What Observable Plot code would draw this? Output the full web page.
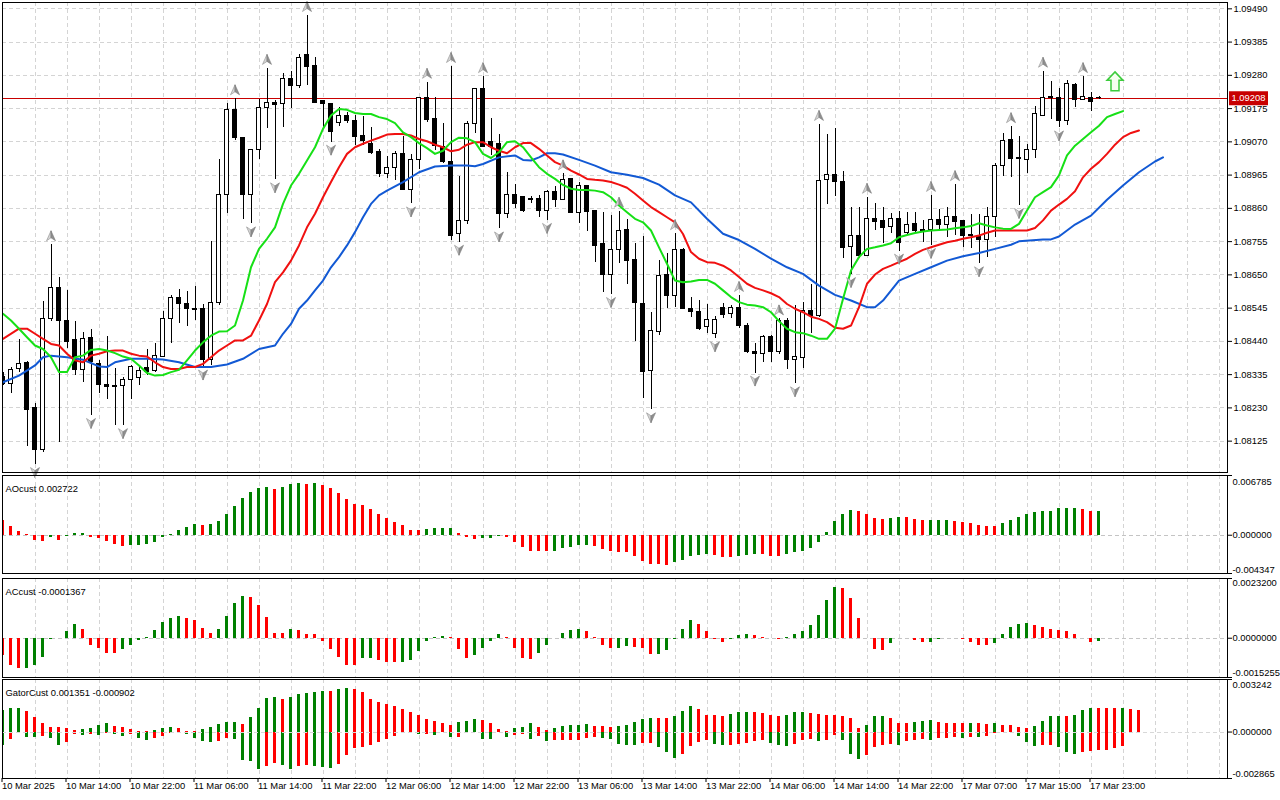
<!DOCTYPE html>
<html><head><meta charset="utf-8">
<script src="https://cdn.jsdelivr.net/npm/d3@7"></script>
<script src="https://cdn.jsdelivr.net/npm/@observablehq/plot@0.6"></script>
<style>
html,body{margin:0;padding:0;background:#fff;}
#chart{position:relative;width:1280px;height:800px;overflow:hidden;background:#fff;}
#chart svg{position:absolute;left:0;}
</style></head><body><div id="chart"></div>
<script>
// ---------- DATA (EURUSD H1, 10–18 Mar 2025) ----------
const open = [1.08326,1.08306,1.08353,1.08372,1.08230,1.08096,1.08511,1.08609,1.08504,1.08443,1.08350,1.08451,1.08369,1.08303,1.08298,1.08298,1.08317,1.08325,1.08357,1.08348,
1.08390,1.08511,1.08578,1.08559,1.08543,1.08543,1.08380,1.08562,1.08903,1.09169,1.09083,1.08903,1.09043,1.09177,1.09193,1.09190,1.09269,1.09246,1.09343,1.09308,
1.09198,1.09190,1.09129,1.09153,1.09137,1.09087,1.09062,1.09037,1.08969,1.08988,1.09032,1.08919,1.09013,1.09209,1.09143,1.09053,1.09006,1.08780,1.08819,1.09125,
1.09237,1.09069,1.09064,1.08843,1.08901,1.08897,1.08889,1.08890,1.08851,1.08913,1.08887,1.08953,1.08845,1.08932,1.08851,1.08746,1.08651,1.08729,1.08792,1.08698,
1.08559,1.08346,1.08469,1.08650,1.08582,1.08727,1.08543,1.08532,1.08485,1.08464,1.08546,1.08525,1.08546,1.08490,1.08408,1.08401,1.08453,1.08406,1.08504,1.08380,
1.08388,1.08535,1.08519,1.08948,1.08964,1.08943,1.08737,1.08774,1.08711,1.08825,1.08819,1.08801,1.08825,1.08782,1.08811,1.08791,1.08792,1.08822,1.08809,1.08832,
1.08819,1.08775,1.08774,1.08761,1.08832,1.08995,1.09076,1.09020,1.09013,1.09045,1.09153,1.09213,1.09209,1.09137,1.09251,1.09203,1.09209,1.09210];
const high = [1.08342,1.08359,1.08445,1.08377,1.08243,1.08566,1.08745,1.08641,1.08601,1.08504,1.08469,1.08477,1.08380,1.08455,1.08355,1.08325,1.08364,1.08359,1.08413,1.08432,
1.08534,1.08585,1.08603,1.08598,1.08613,1.08556,1.08755,1.09013,1.09190,1.09206,1.09085,1.09045,1.09203,1.09302,1.09201,1.09287,1.09293,1.09346,1.09469,1.09335,
1.09201,1.09192,1.09179,1.09164,1.09153,1.09150,1.09116,1.09046,1.09024,1.09040,1.09087,1.09030,1.09211,1.09258,1.09209,1.09127,1.09308,1.08961,1.09134,1.09239,
1.09276,1.09143,1.09093,1.08974,1.08935,1.08897,1.08897,1.08901,1.08916,1.08929,1.08969,1.08953,1.08943,1.08932,1.08851,1.08848,1.08837,1.08851,1.08824,1.08748,
1.08771,1.08530,1.08695,1.08717,1.08780,1.08732,1.08580,1.08569,1.08556,1.08519,1.08559,1.08553,1.08585,1.08496,1.08434,1.08459,1.08459,1.08511,1.08511,1.08553,
1.08564,1.08620,1.09125,1.09093,1.09111,1.08977,1.08862,1.08862,1.08895,1.08876,1.08862,1.08843,1.08851,1.08848,1.08848,1.08822,1.08901,1.08855,1.08864,1.08935,
1.08822,1.08841,1.08841,1.08864,1.09001,1.09095,1.09118,1.09087,1.09062,1.09182,1.09293,1.09261,1.09237,1.09264,1.09253,1.09276,1.09227,1.09214];
const low = [1.08301,1.08276,1.08343,1.08109,1.08051,1.08088,1.08504,1.08122,1.08417,1.08332,1.08311,1.08206,1.08276,1.08256,1.08174,1.08174,1.08256,1.08301,1.08332,1.08343,
1.08388,1.08434,1.08497,1.08487,1.08506,1.08359,1.08364,1.08553,1.08845,1.09074,1.08824,1.08811,1.09014,1.09111,1.08950,1.09116,1.09174,1.09237,1.09248,1.09191,
1.09111,1.09069,1.09118,1.09129,1.09058,1.09058,1.09030,1.08958,1.08953,1.08948,1.08919,1.08874,1.08982,1.09132,1.09043,1.09001,1.08759,1.08753,1.08809,1.09095,
1.09053,1.09027,1.08795,1.08827,1.08859,1.08848,1.08874,1.08832,1.08822,1.08862,1.08885,1.08843,1.08813,1.08788,1.08690,1.08595,1.08588,1.08685,1.08620,1.08441,
1.08259,1.08224,1.08459,1.08543,1.08548,1.08543,1.08516,1.08474,1.08464,1.08448,1.08511,1.08511,1.08480,1.08403,1.08340,1.08374,1.08374,1.08399,1.08350,1.08306,
1.08353,1.08466,1.08516,1.08872,1.08897,1.08701,1.08651,1.08701,1.08708,1.08790,1.08748,1.08782,1.08725,1.08774,1.08785,1.08753,1.08743,1.08790,1.08767,1.08774,
1.08735,1.08732,1.08685,1.08704,1.08767,1.08961,1.08958,1.08869,1.08969,1.09016,1.09150,1.09140,1.09114,1.09122,1.09179,1.09201,1.09167,1.09204];
const close = [1.08307,1.08350,1.08369,1.08224,1.08098,1.08511,1.08609,1.08504,1.08437,1.08350,1.08448,1.08374,1.08303,1.08295,1.08297,1.08317,1.08359,1.08348,1.08343,1.08393,
1.08511,1.08578,1.08559,1.08543,1.08540,1.08380,1.08562,1.08903,1.09169,1.09083,1.08903,1.09043,1.09177,1.09193,1.09187,1.09269,1.09246,1.09335,1.09306,1.09192,
1.09190,1.09100,1.09153,1.09135,1.09085,1.09072,1.09034,1.08967,1.08988,1.09032,1.08919,1.09013,1.09209,1.09140,1.09058,1.09006,1.08774,1.08819,1.09127,1.09237,
1.09053,1.09053,1.08843,1.08901,1.08874,1.08851,1.08887,1.08851,1.08913,1.08887,1.08950,1.08845,1.08932,1.08848,1.08740,1.08651,1.08729,1.08790,1.08695,1.08561,
1.08343,1.08472,1.08646,1.08582,1.08727,1.08543,1.08532,1.08480,1.08509,1.08509,1.08522,1.08546,1.08490,1.08406,1.08401,1.08453,1.08406,1.08504,1.08382,1.08390,
1.08535,1.08519,1.08946,1.08964,1.08943,1.08735,1.08774,1.08711,1.08825,1.08816,1.08799,1.08825,1.08750,1.08809,1.08790,1.08790,1.08822,1.08809,1.08832,1.08816,
1.08773,1.08773,1.08761,1.08832,1.08995,1.09072,1.09016,1.09017,1.09045,1.09159,1.09209,1.09208,1.09137,1.09253,1.09203,1.09211,1.09195,1.09208];

// Alligator lines [bar index (incl. forward shift), price]
const jaw = [[0,1.08311],[2,1.08332],[4,1.08364],[5,1.08390],[6,1.08395],[8,1.08390],[10,1.08382],[12,1.08361],[13,1.08359],[14,1.08374],[16,1.08385],[18,1.08385],[20,1.08383],[22,1.08374],[24,1.08359],[26,1.08359],[28,1.08367],[30,1.08385],[32,1.08416],[34,1.08427],[35,1.08464],[36,1.08495],[37,1.08543],[38,1.08569],[39,1.08601],[40,1.08632],[41,1.08674],[42,1.08706],[43,1.08743],[44,1.08785],[45,1.08832],[46,1.08874],[47,1.08901],[48,1.08916],[50,1.08943],[52,1.08974],[54,1.08992],[56,1.08995],[58,1.08995],[59,1.08993],[60,1.09000],[62,1.09021],[64,1.09027],[65,1.09013],[66,1.09011],[67,1.09021],[68,1.09034],[69,1.09034],[70,1.09030],[72,1.09013],[74,1.08995],[76,1.08974],[78,1.08966],[80,1.08956],[82,1.08935],[84,1.08901],[86,1.08879],[88,1.08827],[90,1.08780],[92,1.08760],[94,1.08732],[96,1.08701],[98,1.08674],[100,1.08653],[102,1.08616],[104,1.08587],[106,1.08569],[108,1.08548],[109,1.08548],[110,1.08569],[112,1.08632],[114,1.08653],[116,1.08674],[118,1.08695],[120,1.08709],[122,1.08719],[124,1.08732],[126,1.08745],[127,1.08756],[130,1.08762],[131,1.08762],[132,1.08771],[134,1.08809],[136,1.08837],[138,1.08887],[140,1.08932],[142,1.08974],[144,1.09008],[145,1.09021]];
const teeth = [[0,1.08448],[2,1.08480],[3,1.08480],[4,1.08464],[5,1.08448],[6,1.08432],[7,1.08427],[8,1.08401],[9,1.08380],[10,1.08374],[11,1.08395],[12,1.08401],[13,1.08409],[14,1.08411],[15,1.08411],[16,1.08401],[17,1.08395],[18,1.08392],[19,1.08374],[20,1.08359],[21,1.08353],[22,1.08353],[23,1.08359],[24,1.08359],[25,1.08369],[26,1.08390],[27,1.08411],[28,1.08427],[29,1.08443],[30,1.08443],[31,1.08458],[32,1.08506],[33,1.08558],[34,1.08627],[35,1.08658],[36,1.08695],[37,1.08743],[38,1.08800],[39,1.08843],[40,1.08895],[41,1.08943],[42,1.08990],[43,1.09032],[44,1.09053],[45,1.09064],[46,1.09074],[47,1.09083],[48,1.09093],[49,1.09095],[50,1.09095],[51,1.09090],[52,1.09079],[53,1.09072],[54,1.09061],[55,1.09053],[56,1.09040],[57,1.09045],[58,1.09061],[59,1.09069],[60,1.09069],[61,1.09053],[62,1.09042],[63,1.09034],[64,1.09053],[65,1.09066],[66,1.09066],[67,1.09048],[68,1.09027],[69,1.09006],[70,1.08995],[71,1.08979],[72,1.08967],[73,1.08953],[74,1.08950],[75,1.08948],[76,1.08943],[77,1.08935],[78,1.08925],[79,1.08906],[80,1.08885],[81,1.08864],[82,1.08848],[83,1.08832],[84,1.08816],[85,1.08779],[86,1.08722],[87,1.08701],[88,1.08690],[89,1.08688],[90,1.08679],[91,1.08664],[92,1.08643],[93,1.08622],[94,1.08609],[95,1.08601],[96,1.08592],[97,1.08580],[98,1.08558],[99,1.08543],[100,1.08532],[101,1.08518],[102,1.08511],[103,1.08501],[104,1.08483],[105,1.08480],[106,1.08490],[107,1.08548],[108,1.08622],[109,1.08651],[110,1.08669],[111,1.08679],[112,1.08690],[113,1.08701],[114,1.08716],[115,1.08729],[116,1.08737],[117,1.08745],[118,1.08753],[119,1.08758],[120,1.08764],[121,1.08769],[122,1.08774],[123,1.08783],[124,1.08790],[126,1.08790],[128,1.08790],[129,1.08798],[130,1.08822],[131,1.08853],[132,1.08872],[133,1.08890],[134,1.08914],[135,1.08958],[136,1.08985],[137,1.09006],[138,1.09032],[139,1.09061],[140,1.09085],[141,1.09098],[142,1.09106]];
const lips = [[0,1.08527],[1,1.08506],[2,1.08480],[3,1.08453],[4,1.08427],[5,1.08416],[6,1.08390],[7,1.08343],[8,1.08343],[9,1.08390],[10,1.08395],[11,1.08413],[12,1.08416],[13,1.08411],[14,1.08403],[15,1.08392],[16,1.08385],[17,1.08364],[18,1.08340],[19,1.08332],[20,1.08334],[21,1.08343],[22,1.08350],[23,1.08380],[24,1.08411],[25,1.08437],[26,1.08458],[27,1.08471],[28,1.08472],[29,1.08490],[30,1.08569],[31,1.08674],[32,1.08732],[33,1.08764],[34,1.08800],[35,1.08874],[36,1.08932],[37,1.08969],[38,1.09011],[39,1.09053],[40,1.09111],[41,1.09153],[42,1.09174],[43,1.09171],[44,1.09161],[45,1.09158],[46,1.09158],[47,1.09148],[48,1.09142],[49,1.09129],[50,1.09100],[51,1.09085],[52,1.09066],[53,1.09050],[54,1.09032],[55,1.09042],[56,1.09069],[57,1.09083],[58,1.09081],[59,1.09069],[60,1.09032],[61,1.09019],[62,1.09037],[63,1.09069],[64,1.09072],[65,1.09053],[66,1.09021],[67,1.08990],[68,1.08969],[69,1.08953],[70,1.08934],[71,1.08922],[72,1.08918],[73,1.08918],[74,1.08916],[75,1.08911],[76,1.08895],[77,1.08869],[78,1.08848],[79,1.08827],[80,1.08816],[81,1.08790],[82,1.08737],[83,1.08685],[84,1.08632],[85,1.08627],[86,1.08629],[87,1.08634],[88,1.08634],[89,1.08622],[90,1.08601],[91,1.08580],[92,1.08564],[93,1.08556],[94,1.08553],[95,1.08548],[96,1.08532],[97,1.08504],[98,1.08480],[99,1.08469],[100,1.08466],[101,1.08458],[102,1.08448],[103,1.08448],[104,1.08480],[105,1.08574],[106,1.08664],[107,1.08706],[108,1.08732],[109,1.08737],[110,1.08743],[111,1.08750],[112,1.08769],[113,1.08776],[114,1.08782],[115,1.08787],[116,1.08790],[117,1.08792],[118,1.08793],[119,1.08797],[120,1.08800],[121,1.08804],[122,1.08813],[123,1.08806],[124,1.08800],[125,1.08796],[126,1.08795],[127,1.08811],[128,1.08853],[129,1.08895],[130,1.08911],[131,1.08927],[132,1.08964],[133,1.09027],[134,1.09058],[135,1.09079],[136,1.09100],[137,1.09121],[138,1.09148],[139,1.09158],[140,1.09167]];

const fractalUpIdx = [6,29,33,38,53,56,60,70,77,84,92,97,102,108,116,119,126,130,135];
const fractalDownIdx = [4,11,15,25,31,34,41,51,57,62,68,76,81,89,94,99,106,112,116,122,127,132];
const signalArrow = [{i: 139, price: 1.09261}];

const priceTicks = [1.09490,1.09385,1.09280,1.09175,1.09070,1.08965,1.08860,1.08755,1.08650,1.08545,1.08440,1.08335,1.08230,1.08125];
const timeTickIdx = [0,8,16,24,32,40,48,56,64,72,80,88,96,104,112,120,128,136];
const timeTickText = ["10 Mar 2025","10 Mar 14:00","10 Mar 22:00","11 Mar 06:00","11 Mar 14:00","11 Mar 22:00","12 Mar 06:00","12 Mar 14:00","12 Mar 22:00","13 Mar 06:00","13 Mar 14:00","13 Mar 22:00","14 Mar 06:00","14 Mar 14:00","14 Mar 22:00","17 Mar 07:00","17 Mar 15:00","17 Mar 23:00"];

const ao = [0.00166,0.00102,0.00045,0.00004,-0.00060,-0.00075,-0.00030,-0.00057,-0.00020,0.00020,0.00024,-0.00030,-0.00040,-0.00075,-0.00105,-0.00124,-0.00122,-0.00117,-0.00105,-0.00079,
-0.00030,0.00005,0.00057,0.00090,0.00117,0.00115,0.00118,0.00158,0.00241,0.00328,0.00418,0.00486,0.00535,0.00547,0.00524,0.00547,0.00581,0.00588,0.00581,0.00592,
0.00566,0.00528,0.00475,0.00411,0.00347,0.00336,0.00294,0.00238,0.00185,0.00147,0.00106,0.00057,0.00056,0.00064,0.00079,0.00081,0.00082,0.00023,-0.00023,-0.00050,
-0.00040,-0.00038,-0.00010,-0.00023,-0.00087,-0.00143,-0.00180,-0.00188,-0.00189,-0.00180,-0.00155,-0.00143,-0.00117,-0.00113,-0.00128,-0.00158,-0.00180,-0.00196,-0.00197,-0.00237,
-0.00300,-0.00330,-0.00335,-0.00340,-0.00313,-0.00283,-0.00237,-0.00230,-0.00219,-0.00226,-0.00249,-0.00256,-0.00237,-0.00230,-0.00219,-0.00221,-0.00237,-0.00240,-0.00219,-0.00200,
-0.00181,-0.00155,-0.00079,0.00034,0.00158,0.00234,0.00279,0.00271,0.00234,0.00189,0.00177,0.00189,0.00204,0.00196,0.00177,0.00162,0.00164,0.00166,0.00167,0.00160,
0.00147,0.00132,0.00113,0.00102,0.00100,0.00132,0.00170,0.00204,0.00234,0.00253,0.00264,0.00271,0.00302,0.00305,0.00306,0.00290,0.00271,0.002722];
const ac = [-0.00068,-0.00107,-0.00118,-0.00116,-0.00107,-0.00073,-0.00005,-0.00003,0.00028,0.00054,0.00035,-0.00027,-0.00039,-0.00058,-0.00060,-0.00045,-0.00027,-0.00010,0.00004,0.00030,
0.00062,0.00076,0.00084,0.00076,0.00067,0.00036,0.00019,0.00035,0.00084,0.00135,0.00161,0.00157,0.00126,0.00081,0.00019,0.00018,0.00035,0.00030,0.00015,0.00014,
-0.00014,-0.00045,-0.00073,-0.00104,-0.00107,-0.00080,-0.00078,-0.00087,-0.00094,-0.00096,-0.00093,-0.00088,-0.00053,-0.00013,0.00004,0.00005,0.00003,-0.00045,-0.00080,-0.00068,
-0.00041,-0.00013,0.00015,0.00002,-0.00041,-0.00077,-0.00084,-0.00058,-0.00030,-0.00003,0.00019,0.00030,0.00032,0.00026,0.00003,-0.00027,-0.00041,-0.00038,-0.00034,-0.00036,
-0.00041,-0.00064,-0.00063,-0.00049,-0.00004,0.00032,0.00067,0.00055,0.00028,-0.00006,-0.00017,-0.00004,0.00009,0.00015,0.00010,0.00004,-0.00003,-0.00005,0.00004,0.00015,
0.00028,0.00048,0.00090,0.00148,0.00197,0.00193,0.00154,0.00077,-0.00003,-0.00045,-0.00049,-0.00022,-0.00001,-0.00002,-0.00009,-0.00017,-0.00015,-0.00006,-0.00003,-0.00001,
-0.00006,-0.00017,-0.00028,-0.00030,-0.00022,0.00015,0.00042,0.00054,0.00058,0.00048,0.00042,0.00032,0.00031,0.00028,0.00015,-0.00003,-0.00017,-0.0001367];
const gatorUp = [0.00133,0.00143,0.00147,0.00125,0.00092,0.00055,0.00031,0.00030,0.00025,0.00010,0.00016,0.00025,0.00043,0.00055,0.00037,0.00030,0.00014,0.00006,0.00002,0.00012,
0.00023,0.00027,0.00020,0.00004,0.00001,0.00016,0.00030,0.00049,0.00057,0.00061,0.00047,0.00088,0.00145,0.00205,0.00213,0.00201,0.00211,0.00229,0.00238,0.00246,
0.00252,0.00248,0.00262,0.00268,0.00262,0.00242,0.00201,0.00184,0.00172,0.00160,0.00139,0.00123,0.00104,0.00078,0.00066,0.00053,0.00041,0.00057,0.00068,0.00078,
0.00074,0.00053,0.00016,0.00006,0.00023,0.00030,0.00053,0.00031,0.00010,0.00025,0.00032,0.00040,0.00043,0.00044,0.00037,0.00035,0.00031,0.00037,0.00038,0.00057,
0.00078,0.00086,0.00085,0.00082,0.00098,0.00125,0.00160,0.00139,0.00102,0.00101,0.00098,0.00111,0.00119,0.00123,0.00119,0.00115,0.00104,0.00094,0.00104,0.00119,
0.00123,0.00117,0.00111,0.00102,0.00101,0.00094,0.00082,0.00025,0.00043,0.00094,0.00095,0.00082,0.00053,0.00052,0.00061,0.00068,0.00069,0.00061,0.00053,0.00052,
0.00051,0.00053,0.00052,0.00047,0.00053,0.00041,0.00040,0.00031,0.00025,0.00037,0.00068,0.00094,0.00098,0.00097,0.00104,0.00131,0.00147,0.00146,0.00145,0.00143,
0.00147,0.00141,0.001351];
const gatorDown = [-0.00082,-0.00045,-0.00004,-0.00031,-0.00035,-0.00029,-0.00041,-0.00086,-0.00066,-0.00018,-0.00020,-0.00014,-0.00020,-0.00008,-0.00016,-0.00025,-0.00014,-0.00037,-0.00051,-0.00041,
-0.00029,-0.00008,-0.00004,-0.00016,-0.00041,-0.00057,-0.00066,-0.00061,-0.00041,-0.00045,-0.00178,-0.00184,-0.00229,-0.00213,-0.00193,-0.00209,-0.00229,-0.00213,-0.00209,-0.00215,
-0.00219,-0.00225,-0.00199,-0.00143,-0.00102,-0.00098,-0.00086,-0.00066,-0.00045,-0.00029,-0.00008,-0.00010,-0.00016,-0.00014,-0.00020,-0.00004,-0.00035,-0.00034,-0.00004,-0.00003,
-0.00045,-0.00046,-0.00004,-0.00035,-0.00020,-0.00014,-0.00045,-0.00029,-0.00057,-0.00055,-0.00054,-0.00053,-0.00050,-0.00037,-0.00036,-0.00040,-0.00045,-0.00076,-0.00082,-0.00086,
-0.00072,-0.00071,-0.00096,-0.00127,-0.00164,-0.00141,-0.00092,-0.00066,-0.00055,-0.00076,-0.00086,-0.00085,-0.00076,-0.00072,-0.00061,-0.00055,-0.00072,-0.00086,-0.00088,-0.00076,
-0.00055,-0.00045,-0.00061,-0.00051,-0.00020,-0.00055,-0.00141,-0.00168,-0.00147,-0.00096,-0.00080,-0.00079,-0.00086,-0.00061,-0.00055,-0.00049,-0.00050,-0.00041,-0.00040,-0.00035,
-0.00041,-0.00033,-0.00036,-0.00025,-0.00008,-0.00001,-0.00001,-0.00025,-0.00066,-0.00090,-0.00082,-0.00080,-0.00096,-0.00127,-0.00137,-0.00127,-0.00117,-0.00116,-0.00111,-0.00102,
-0.000902];

const aoRange = [-0.004347, 0.006785];
const acRange = [-0.0015255, 0.0023200];
const gatorRange = [-0.002865, 0.003242];

// ---------- STYLE ----------
const GREEN = "#008000", RED = "#ff0000";
const GRID = "#d4d4d4";
const style = {fontFamily: "'Liberation Sans', Arial, sans-serif", fontSize: "9.4px", background: "transparent", color: "black", overflow: "visible"};
const W = 1280, ML = 2, MR = 53;
const xDomain = [(0 - 0.5) / 8, (1225 - 0.5) / 8];
const gridIdx = d3.range(4, 154, 4);
const crisp = "crispEdges";

const candles = open.map((o, i) => ({i, o, h: high[i], l: low[i], c: close[i]}));
const lastPrice = close[close.length - 1];

const barColors = (arr, first, useAbs) => arr.map((v, i) => ({i, v,
  color: i === 0 ? first : ((useAbs ? Math.abs(v) > Math.abs(arr[i - 1]) : v > arr[i - 1]) ? GREEN : RED)}));

// symbols
const fracUpL = {draw(c){c.moveTo(0,-5);c.lineTo(0,2);c.lineTo(-4.5,5);c.closePath();}};
const fracUpR = {draw(c){c.moveTo(0,-5);c.lineTo(4.5,5);c.lineTo(0,2);c.closePath();}};
const fracDnL = {draw(c){c.moveTo(0,5);c.lineTo(0,-2);c.lineTo(-4.5,-5);c.closePath();}};
const fracDnR = {draw(c){c.moveTo(0,5);c.lineTo(4.5,-5);c.lineTo(0,-2);c.closePath();}};
const blockUp = {draw(c){c.moveTo(0,-9.5);c.lineTo(8,-1);c.lineTo(4,-1);c.lineTo(4,9.5);c.lineTo(-4,9.5);c.lineTo(-4,-1);c.lineTo(-8,-1);c.closePath();}};
const labelBox = {draw(c){c.rect(-19.5,-7,39,14);}};

const chart = document.getElementById("chart");
function place(svg, top) { svg.style.top = top + "px"; chart.appendChild(svg); }

// ---------- MAIN PRICE PANEL ----------
const main = Plot.plot({
  width: W, height: 475, marginLeft: ML, marginRight: MR, marginTop: 2, marginBottom: 3,
  style,
  x: {domain: xDomain, axis: null},
  y: {domain: [1.08026, 1.09510]},
  marks: [
    Plot.ruleY(priceTicks, {stroke: GRID, strokeDasharray: "4,3", shapeRendering: crisp}),
    Plot.ruleX(gridIdx, {stroke: GRID, strokeDasharray: "4,3", shapeRendering: crisp}),
    Plot.ruleY([lastPrice], {stroke: "#c80000", strokeWidth: 1, shapeRendering: crisp}),
    Plot.ruleX(candles, {x: "i", y1: "l", y2: "h", stroke: "black", strokeWidth: 1, clip: true, shapeRendering: crisp}),
    Plot.rect(candles, {x1: d => d.i - 0.25, x2: d => d.i + 0.25, y1: "o", y2: "c",
      fill: d => d.c > d.o ? "white" : "black", stroke: "black", strokeWidth: 1, clip: true, shapeRendering: crisp}),
    Plot.line(jaw, {x: d => d[0], y: d => d[1], stroke: "#1259d4", strokeWidth: 2}),
    Plot.line(teeth, {x: d => d[0], y: d => d[1], stroke: "#f01010", strokeWidth: 2}),
    Plot.line(lips, {x: d => d[0], y: d => d[1], stroke: "#16e016", strokeWidth: 2}),
    Plot.dot(fractalUpIdx, {x: d => d, y: d => high[d], dy: -9, symbol: fracUpL, r: 5, fill: "#d6d6d6", stroke: "#8c8c8c", strokeWidth: 0.6}),
    Plot.dot(fractalUpIdx, {x: d => d, y: d => high[d], dy: -9, symbol: fracUpR, r: 5, fill: "#8f8f8f", stroke: "#7a7a7a", strokeWidth: 0.6}),
    Plot.dot(fractalDownIdx, {x: d => d, y: d => low[d], dy: 8, symbol: fracDnL, r: 5, fill: "#d6d6d6", stroke: "#8c8c8c", strokeWidth: 0.6}),
    Plot.dot(fractalDownIdx, {x: d => d, y: d => low[d], dy: 8, symbol: fracDnR, r: 5, fill: "#8f8f8f", stroke: "#7a7a7a", strokeWidth: 0.6}),
    Plot.dot(signalArrow, {x: "i", y: "price", symbol: blockUp, r: 8, fill: "#f6fff0", stroke: "#3ccc3c", strokeWidth: 1.5}),
    Plot.axisY(priceTicks, {anchor: "right", tickSize: 4, tickPadding: 2, tickFormat: d => d.toFixed(5), label: null}),
    Plot.dot([lastPrice], {y: d => d, frameAnchor: "right", dx: 21, symbol: labelBox, r: 8, fill: "#c80000", stroke: "none"}),
    Plot.text([lastPrice], {y: d => d, frameAnchor: "right", dx: 4, textAnchor: "start", text: d => d.toFixed(5), fill: "white"}),
    Plot.frame({stroke: "black", shapeRendering: crisp})
  ]
});
place(main, 0);

// ---------- INDICATOR PANELS ----------
function panel({range, title, height, top, mt, mb, digits, dyTop, dyBot, withTime, zeroOnTop, bars}) {
  const marks = [
    Plot.ruleX(gridIdx, {stroke: GRID, strokeDasharray: "4,3", shapeRendering: crisp}),
  ];
  if (!zeroOnTop) marks.push(Plot.ruleY([0], {stroke: "#c4c4c4", strokeDasharray: "4,3", shapeRendering: crisp}));
  for (const b of bars) {
    marks.push(Plot.rect(b, {x1: d => d.i - 0.22, x2: d => d.i + 0.22, y1: 0, y2: "v", fill: "color", clip: true, shapeRendering: crisp}));
  }
  if (zeroOnTop) marks.push(Plot.ruleY([0], {stroke: "#d8d8d8", strokeDasharray: "4,3", shapeRendering: crisp}));
  marks.push(
    Plot.text([title], {text: d => d, frameAnchor: "top-left", dx: 3, dy: 9.5, textAnchor: "start"}),
    Plot.axisY([range[0], 0, range[1]], {anchor: "right", tickSize: 4, tickFormat: () => "", label: null}),
    Plot.text([range[1]], {y: d => d, frameAnchor: "right", dx: 5, dy: dyTop, textAnchor: "start", text: d => d.toFixed(digits)}),
    Plot.text([0], {y: d => d, frameAnchor: "right", dx: 5, textAnchor: "start", text: d => d.toFixed(digits)}),
    Plot.text([range[0]], {y: d => d, frameAnchor: "right", dx: 5, dy: dyBot, textAnchor: "start", text: d => d.toFixed(digits)})
  );
  if (withTime) {
    marks.push(Plot.axisX(timeTickIdx, {anchor: "bottom", tickSize: 4, tickPadding: 0, textAnchor: "start", dx: -1,
      tickFormat: d => timeTickText[timeTickIdx.indexOf(d)], label: null}));
  }
  marks.push(Plot.frame({stroke: "black", shapeRendering: crisp}));
  const svg = Plot.plot({
    width: W, height, marginLeft: ML, marginRight: MR, marginTop: mt, marginBottom: mb,
    style,
    x: withTime ? {domain: xDomain} : {domain: xDomain, axis: null},
    y: {domain: range},
    marks
  });
  place(svg, top);
}

panel({range: aoRange, title: `AOcust ${ao[ao.length - 1].toFixed(6)}`, height: 103, top: 473, mt: 2, mb: 3,
  digits: 6, dyTop: 6, dyBot: -4, bars: [barColors(ao, RED, false)]});
panel({range: acRange, title: `ACcust ${ac[ac.length - 1].toFixed(7)}`, height: 104, top: 576, mt: 2, mb: 3,
  digits: 7, dyTop: 4.5, dyBot: -5, bars: [barColors(ac, RED, false)]});
panel({range: gatorRange, title: `GatorCust ${gatorUp[gatorUp.length - 1].toFixed(6)} ${gatorDown[gatorDown.length - 1].toFixed(6)}`,
  height: 123, top: 677, mt: 2, mb: 22, digits: 6, dyTop: 5.5, dyBot: -5, withTime: true, zeroOnTop: true,
  bars: [barColors(gatorUp, GREEN, true), barColors(gatorDown, GREEN, true)]});
</script></body></html>
